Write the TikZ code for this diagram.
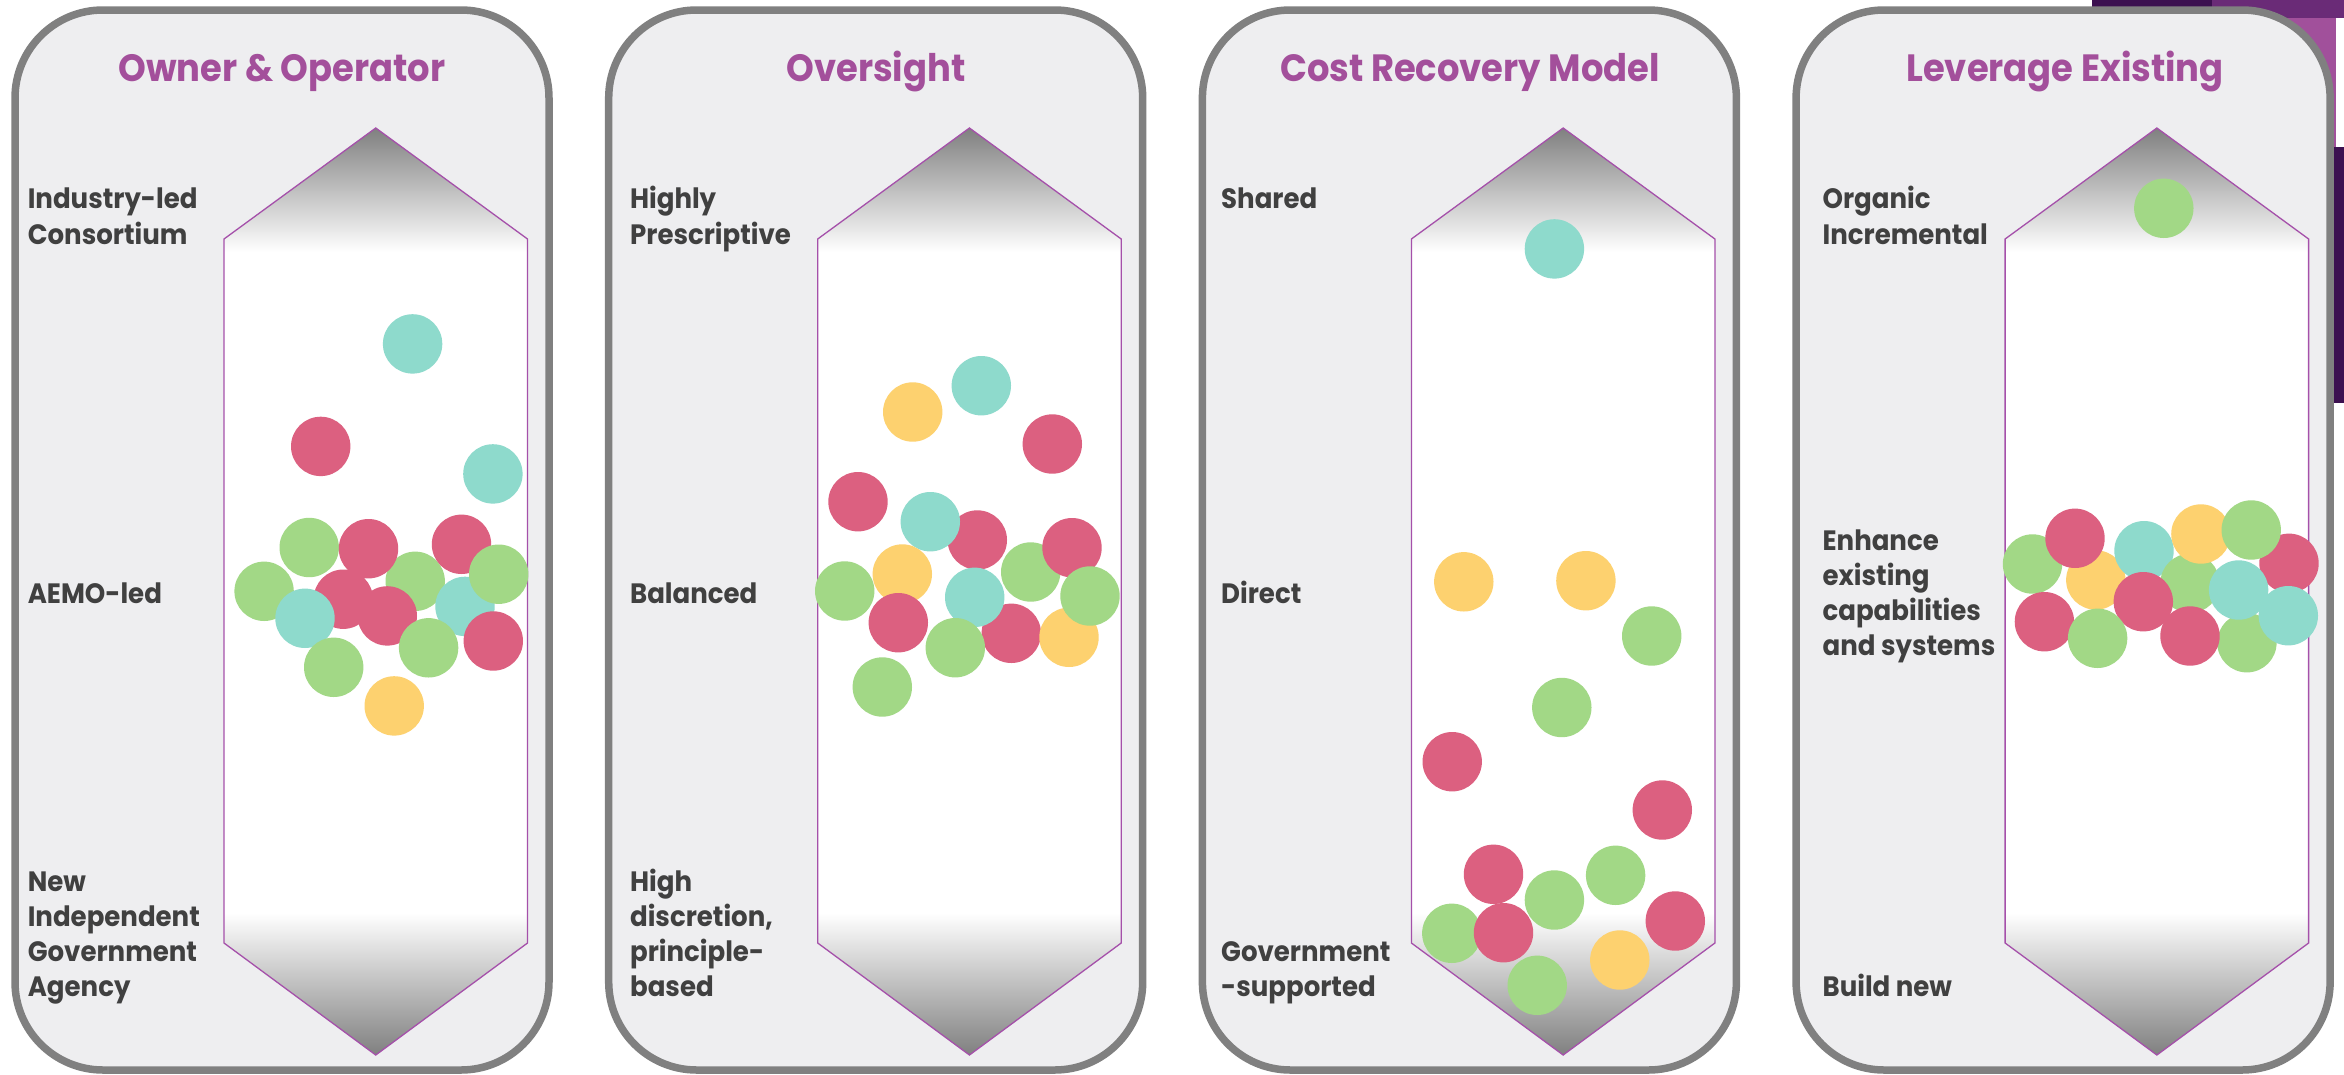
\documentclass[tikz,border=0pt]{standalone}
\usepackage{fontspec}
\setmainfont{Poppins}
\newfontfamily\narrowfont{Poppins}[FakeStretch=0.93]
\definecolor{panelfill}{RGB}{238,238,240}
\definecolor{panelborder}{RGB}{128,128,128}
\definecolor{titlecol}{RGB}{163,79,155}
\definecolor{labelcol}{RGB}{64,64,64}
\definecolor{arrowline}{RGB}{165,80,170}
\definecolor{headgray}{RGB}{128,128,128}
\definecolor{cred}{RGB}{220,96,128}
\definecolor{cgreen}{RGB}{162,216,134}
\definecolor{cteal}{RGB}{142,218,204}
\definecolor{cyellow}{RGB}{253,209,111}
\definecolor{pdark}{RGB}{60,16,80}
\definecolor{pmid}{RGB}{106,43,119}
\definecolor{plight}{RGB}{161,80,155}
\newcommand{\ball}[3]{\fill[#3] (#1,#2) circle[radius=29.7];}
\tikzset{
  panelbox/.style={draw=panelborder, line width=7.5pt, fill=panelfill, rounded corners=88pt},
  arrowedge/.style={draw=arrowline, line width=1.3pt, line join=miter},
  titletext/.style={font=\narrowfont\fontsize{38}{46}\selectfont\bfseries, text=titlecol, anchor=base, inner sep=0pt},
  labeltext/.style={font=\narrowfont\fontsize{28}{34}\selectfont\bfseries, text=labelcol, anchor=base west, inner sep=0pt}
}
\begin{document}
\begin{tikzpicture}[x=1pt,y=-1pt]
\useasboundingbox (0,0) rectangle (2344,1074);
\fill[white] (0,0) rectangle (2344,1074);
% background slide fragments (top right)
\fill[pdark] (2092,0) rectangle (2212,60);
\fill[pmid] (2212,0) rectangle (2344,18);
\fill[plight] (2212,18) rectangle (2336,147);
\fill[pdark] (2200,147) rectangle (2344,403);
% panels and double arrows
\foreach \i in {0,1,2,3} {
  \pgfmathsetmacro\pl{15+593.7*\i}
  \pgfmathsetmacro\pr{\pl+534}
  \path[panelbox] (\pl,10) rectangle (\pr,1070);
  \pgfmathsetmacro\al{224+593.7*\i}
  \pgfmathsetmacro\ar{\al+303.5}
  \pgfmathsetmacro\ac{\al+151.75}
  \fill[white] (\ac,128) -- (\ar,239) -- (\ar,943) -- (\ac,1055) -- (\al,943) -- (\al,239) -- cycle;
  \begin{scope}
    \clip (\ac,128) -- (\ar,239) -- (\ar,943) -- (\ac,1055) -- (\al,943) -- (\al,239) -- cycle;
    \shade[top color=headgray, bottom color=white] (\al,128) rectangle (\ar,252);
    \shade[top color=white, bottom color=headgray] (\al,913) rectangle (\ar,1055);
  \end{scope}
  \path[arrowedge] (\ac,128) -- (\ar,239) -- (\ar,943) -- (\ac,1055) -- (\al,943) -- (\al,239) -- cycle;
}
% titles
\node[titletext] (t1) at (282,81) {Owner \& Operator};
\node[titletext] (t2) at (876,81) {Oversight};
\node[titletext] (t3) at (1470,81) {Cost Recovery Model};
\node[titletext] (t4) at (2065,81) {Leverage Existing};
% panel 1 labels
\node[labeltext] (p1a1) at (27.6,208) {Industry-led};
\node[labeltext] (p1a2) at (27.6,244) {Consortium};
\node[labeltext] (p1b) at (27.6,603) {AEMO-led};
\node[labeltext] (p1c1) at (27.6,891) {New};
\node[labeltext] (p1c2) at (27.6,926) {Independent};
\node[labeltext] (p1c3) at (27.6,961) {Government};
\node[labeltext] (p1c4) at (27.6,996) {Agency};
% panel 2 labels
\node[labeltext] (p2a1) at (629.9,208) {Highly};
\node[labeltext] (p2a2) at (629.9,244) {Prescriptive};
\node[labeltext] (p2b) at (629.9,603) {Balanced};
\node[labeltext] (p2c1) at (629.9,891) {High};
\node[labeltext] (p2c2) at (629.9,926) {discretion,};
\node[labeltext] (p2c3) at (629.9,961) {principle-};
\node[labeltext] (p2c4) at (629.9,996) {based};
% panel 3 labels
\node[labeltext] (p3a) at (1221,208) {Shared};
\node[labeltext] (p3b) at (1221,603) {Direct};
\node[labeltext] (p3c1) at (1221,961) {Government};
\node[labeltext] (p3c2) at (1221,996) {-supported};
% panel 4 labels
\node[labeltext] (p4a1) at (1822.4,208) {Organic};
\node[labeltext] (p4a2) at (1822.4,244) {Incremental};
\node[labeltext] (p4b1) at (1822.4,550) {Enhance};
\node[labeltext] (p4b2) at (1822.4,585) {existing};
\node[labeltext] (p4b3) at (1822.4,620) {capabilities};
\node[labeltext] (p4b4) at (1822.4,655) {and systems};
\node[labeltext] (p4c) at (1822.4,996) {Build new};
% panel 1 balls
\ball{415.2}{581.3}{cgreen}
\ball{461.5}{544.3}{cred}
\ball{465}{606.4}{cteal}
\ball{498.7}{574.2}{cgreen}
\ball{493.3}{641}{cred}
\ball{264.1}{591.3}{cgreen}
\ball{309.2}{547.5}{cgreen}
\ball{368.5}{548.7}{cred}
\ball{343.3}{599.2}{cred}
\ball{387.3}{615.9}{cred}
\ball{305}{618.3}{cteal}
\ball{333.7}{667.3}{cgreen}
\ball{428.6}{647.8}{cgreen}
\ball{394.2}{705.9}{cyellow}
\ball{412.6}{343.9}{cteal}
\ball{320.7}{446.4}{cred}
\ball{492.9}{473.9}{cteal}
% panel 2 balls
\ball{912.7}{412}{cyellow}
\ball{981.3}{385.7}{cteal}
\ball{1052.3}{444}{cred}
\ball{858}{501.7}{cred}
\ball{977.3}{540}{cred}
\ball{930.3}{521.7}{cteal}
\ball{902.3}{574}{cyellow}
\ball{844.7}{591}{cgreen}
\ball{898.3}{622.7}{cred}
\ball{1030.7}{572}{cgreen}
\ball{1072}{547.7}{cred}
\ball{1011.3}{633.3}{cred}
\ball{974.7}{597.3}{cteal}
\ball{955.3}{647.7}{cgreen}
\ball{1069}{637.3}{cyellow}
\ball{1090}{596}{cgreen}
\ball{882.3}{687}{cgreen}
% panel 3 balls
\ball{1554.4}{248.9}{cteal}
\ball{1463.8}{581.8}{cyellow}
\ball{1585.9}{580.7}{cyellow}
\ball{1651.7}{636}{cgreen}
\ball{1561.8}{707.5}{cgreen}
\ball{1452.2}{761.7}{cred}
\ball{1662.3}{810}{cred}
\ball{1615.6}{875.3}{cgreen}
\ball{1554.4}{900}{cgreen}
\ball{1493.5}{874.3}{cred}
\ball{1451.8}{933.3}{cgreen}
\ball{1503.5}{932.7}{cred}
\ball{1537.2}{985.3}{cgreen}
\ball{1675.3}{921}{cred}
\ball{1619.8}{960}{cyellow}
% panel 4 balls
\ball{2163.8}{208.3}{cgreen}
\ball{2032.5}{564}{cgreen}
\ball{2095.8}{580}{cyellow}
\ball{2075}{538.3}{cred}
\ball{2144}{550.7}{cteal}
\ball{2190}{583.3}{cgreen}
\ball{2200.9}{534}{cyellow}
\ball{2289}{563.3}{cred}
\ball{2251.2}{530}{cgreen}
\ball{2246.9}{642.7}{cgreen}
\ball{2143.3}{601.7}{cred}
\ball{2044.4}{621.7}{cred}
\ball{2097.6}{638.3}{cgreen}
\ball{2190}{636}{cred}
\ball{2238.6}{590}{cteal}
\ball{2288.3}{615.7}{cteal}
\end{tikzpicture}
\end{document}
